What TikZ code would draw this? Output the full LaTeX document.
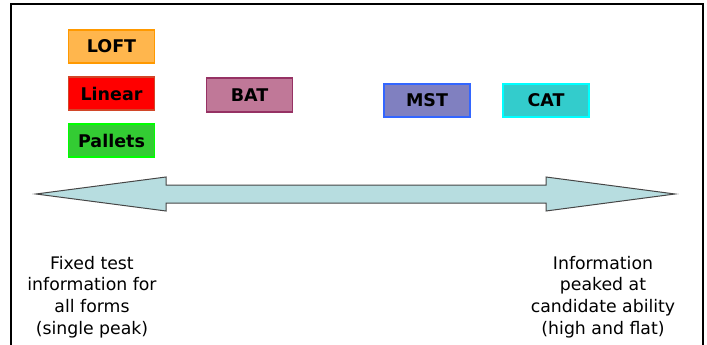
\documentclass[tikz,border=0pt]{standalone}
\usepackage{fontspec}
\setmainfont{DejaVu Sans}
\definecolor{loftfill}{RGB}{255,182,77}
\definecolor{loftline}{RGB}{255,153,0}
\definecolor{linfill}{RGB}{255,0,0}
\definecolor{linline}{RGB}{210,70,40}
\definecolor{palfill}{RGB}{51,204,51}
\definecolor{palline}{RGB}{0,255,0}
\definecolor{batfill}{RGB}{192,120,152}
\definecolor{batline}{RGB}{150,50,100}
\definecolor{mstfill}{RGB}{128,128,192}
\definecolor{mstline}{RGB}{51,102,255}
\definecolor{catfill}{RGB}{51,204,204}
\definecolor{catline}{RGB}{0,255,255}
\definecolor{arrowfill}{RGB}{183,221,224}
\definecolor{arrowline}{RGB}{70,70,70}
\begin{document}
\begin{tikzpicture}[x=1pt,y=-1pt,
  design/.style={draw, line width=1.6pt, minimum width=86pt, minimum height=33pt,
    inner sep=0pt, font=\fontsize{17.5}{20}\selectfont\bfseries},
  note/.style={align=center, inner sep=0pt, anchor=north,
    font=\fontsize{17.3}{21.6}\selectfont}]
\useasboundingbox (0,0) rectangle (707,345);
% outer frame, open at the bottom
\begin{scope}
\clip (0,0) rectangle (707,345);
\draw[line width=1.3pt, black] (11,360) -- (11,4) -- (703,4) -- (703,360);
\end{scope}
% test designs
\node[design, fill=loftfill, draw=loftline] (loft) at (111.5,46.5) {LOFT};
\node[design, fill=linfill, draw=linline] (linear) at (111.5,93.5) {Linear};
\node[design, fill=palfill, draw=palline] (pallets) at (111.5,140.5) {Pallets};
\node[design, fill=batfill, draw=batline, minimum height=34pt] (bat) at (249.5,95) {BAT};
\node[design, fill=mstfill, draw=mstline] (mst) at (427,100.5) {MST};
\node[design, fill=catfill, draw=catline] (cat) at (546,100.5) {CAT};
% double-headed scale arrow
\draw[fill=arrowfill, draw=arrowline, line width=1pt, line join=miter]
  (36,194) -- (166,177) -- (166,185) -- (546,185) -- (546,177) -- (675,194)
  -- (546,211) -- (546,203) -- (166,203) -- (166,211) -- cycle;
% end descriptions
\node[note] (left) at (92,256) {Fixed test\\information for\\all forms\\(single peak)};
\node[note] (right) at (603,256) {Information\\peaked at\\candidate ability\\(high and flat)};
\end{tikzpicture}
\end{document}
